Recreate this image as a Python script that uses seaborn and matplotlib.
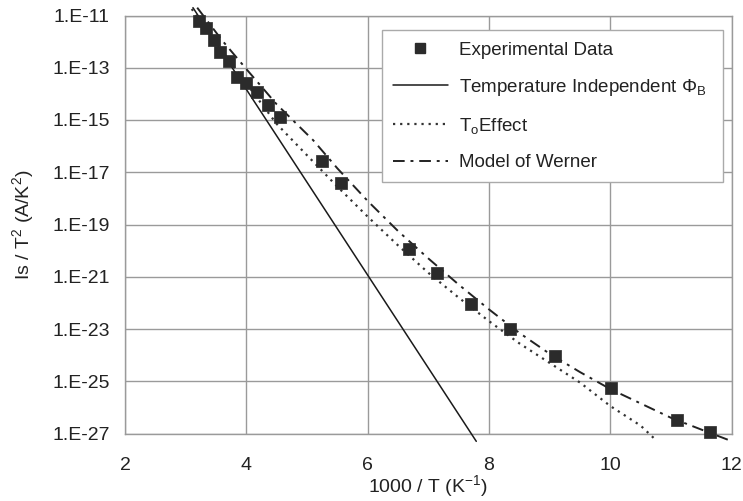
import numpy as np
import pandas as pd
import matplotlib
matplotlib.use("Agg")
import matplotlib.pyplot as plt
import seaborn as sns
from matplotlib.ticker import FixedLocator, FuncFormatter, NullLocator
from matplotlib.lines import Line2D

# ---- data (x = 1000/T, y given as log10(Is/T^2)) ----
exp_x = [3.22, 3.33, 3.46, 3.57, 3.71, 3.85, 3.99, 4.17, 4.36, 4.55,
         5.25, 5.56, 6.68, 7.15, 7.70, 8.35, 9.09, 10.01, 11.10, 11.64]
exp_log = [-11.20, -11.49, -11.94, -12.39, -12.74, -13.34, -13.60, -13.94, -14.44, -14.87,
           -16.57, -17.42, -19.95, -20.85, -22.04, -23.01, -24.02, -25.25, -26.49, -26.95]

tind_x = [3.12, 7.79]
tind_log = [-10.70, -27.30]

t0_x = [3.10, 3.50, 4.00, 4.50, 5.00, 5.50, 6.00, 6.50, 7.00, 7.50,
        8.00, 8.50, 9.00, 9.50, 10.00, 10.50, 10.75]
t0_log = [-10.75, -12.05, -13.60, -15.15, -16.35, -17.55, -18.70, -19.80, -20.85, -21.80,
          -22.70, -23.55, -24.30, -25.05, -25.95, -26.70, -27.25]

wer_x = [3.19, 3.60, 4.00, 4.50, 5.10, 5.50, 6.00, 6.50, 7.00, 7.50,
         8.00, 8.50, 9.00, 9.50, 10.00, 10.50, 11.00, 11.50, 11.95]
wer_log = [-10.70, -11.95, -13.05, -14.40, -15.77, -16.85, -18.10, -19.25, -20.30, -21.30,
           -22.25, -23.15, -23.95, -24.65, -25.30, -25.85, -26.40, -26.85, -27.25]

x_ticks = [2, 4, 6, 8, 10, 12]
y_tick_exps = [-11, -13, -15, -17, -19, -21, -23, -25, -27]

labels = ["Experimental Data",
          r"Temperature Independent $\Phi_\mathrm{B}$",
          r"T$_\mathrm{o}$Effect",
          "Model of Werner"]

# ---- style ----
sns.set_style("white")
plt.rcParams["font.family"] = ["Liberation Sans", "DejaVu Sans"]
plt.rcParams["mathtext.fontset"] = "custom"
plt.rcParams["mathtext.rm"] = "Liberation Sans"
plt.rcParams["mathtext.it"] = "Liberation Sans:italic"
plt.rcParams["mathtext.bf"] = "Liberation Sans:bold"
plt.rcParams["mathtext.default"] = "regular"

fig = plt.figure(figsize=(7.43, 5.01), dpi=100)
ax = fig.add_axes([125 / 743, 1 - 433.5 / 501, (731.7 - 125) / 743, (433.5 - 15.5) / 501])

exp_df = pd.DataFrame({"x": exp_x, "y": np.power(10.0, exp_log)})
tind_df = pd.DataFrame({"x": tind_x, "y": np.power(10.0, tind_log)})
t0_df = pd.DataFrame({"x": t0_x, "y": np.power(10.0, t0_log)})
wer_df = pd.DataFrame({"x": wer_x, "y": np.power(10.0, wer_log)})

line_col = "#1a1a1a"
sns.lineplot(data=tind_df, x="x", y="y", ax=ax, color=line_col, lw=1.1,
             sort=False, estimator=None, clip_on=False, zorder=3)
sns.lineplot(data=t0_df, x="x", y="y", ax=ax, color="#333333", lw=1.6,
             linestyle=(0, (1, 2.2)), sort=False, estimator=None, clip_on=False, zorder=3)
sns.lineplot(data=wer_df, x="x", y="y", ax=ax, color="#222222", lw=1.4,
             linestyle=(0, (6, 3, 1.5, 3)), sort=False, estimator=None, clip_on=False, zorder=3)
sns.scatterplot(data=exp_df, x="x", y="y", ax=ax, marker="s", s=75, color="#2b2b2b",
                edgecolor="#2b2b2b", linewidth=0.5, zorder=4, clip_on=False)

ax.set_yscale("log")
ax.set_xlim(2, 12)
ax.set_ylim(1e-27, 1e-11)
ax.xaxis.set_major_locator(FixedLocator(x_ticks))
ax.yaxis.set_major_locator(FixedLocator([10.0 ** e for e in y_tick_exps]))
ax.yaxis.set_minor_locator(NullLocator())
ax.yaxis.set_major_formatter(FuncFormatter(lambda v, p: "1.E%d" % int(round(np.log10(v)))))
ax.xaxis.set_major_formatter(FuncFormatter(lambda v, p: "%d" % v))

grid_col = "#9a9a9a"
ax.grid(True, which="major", color=grid_col, lw=1.0)
ax.set_axisbelow(True)
for s in ax.spines.values():
    s.set_color(grid_col)
    s.set_linewidth(1.0)
ax.tick_params(axis="both", which="major", direction="out", length=5, width=1.0,
               color=grid_col, labelsize=14, labelcolor="#222222", pad=6)
ax.tick_params(axis="x", pad=12)

ax.set_xlabel(r"1000 / T (K$^{-1}$)", fontsize=14, color="#222222", labelpad=-1)
ax.set_ylabel(r"Is / T$^2$ (A/K$^2$)", fontsize=14, color="#222222", labelpad=12)

handles = [
    Line2D([], [], linestyle="none", marker="s", markersize=7.5, color="#2b2b2b"),
    Line2D([], [], color=line_col, lw=1.1),
    Line2D([], [], color="#333333", lw=1.6, linestyle=(0, (1, 2.2))),
    Line2D([], [], color="#222222", lw=1.4, linestyle=(0, (6, 3, 1.5, 3))),
]
leg = ax.legend(handles, labels, loc="upper left",
                bbox_to_anchor=(0.4236, 0.6065, 0.562, 0.3585), mode="expand",
                fontsize=13.5, frameon=True, fancybox=False, framealpha=1,
                edgecolor="#aaaaaa", labelspacing=0.97, handlelength=2.9,
                handletextpad=0.6, borderpad=0.6, borderaxespad=0)
leg.get_frame().set_linewidth(1.0)
for t in leg.get_texts():
    t.set_color("#222222")

fig.savefig("out.png", dpi=100, facecolor="white")
